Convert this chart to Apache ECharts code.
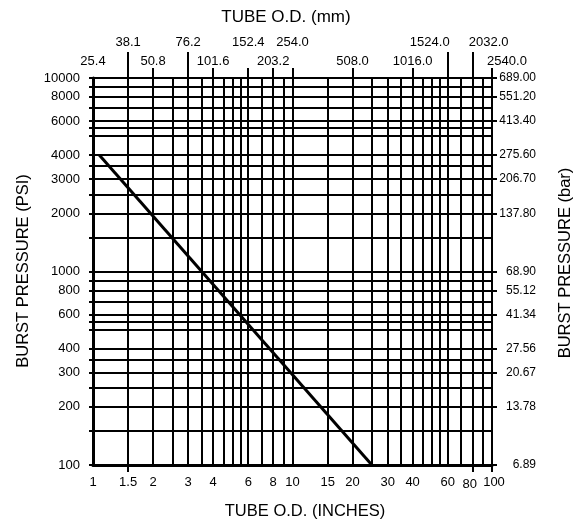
<!DOCTYPE html>
<html>
<head>
<meta charset="utf-8">
<script src="https://cdn.jsdelivr.net/npm/echarts@6/dist/echarts.min.js"></script>
<style>
  html, body { margin: 0; padding: 0; background: #fff; }
  #burst-chart { width: 580px; height: 519px; }
</style>
</head>
<body>
<div id="burst-chart"></div>
<script>
// tube O.D. in inches, bottom axis labels
let inchTicks = [1, 1.5, 2, 3, 4, 6, 8, 10, 15, 20, 30, 40, 60, 80, 100];
let inchStyle = ['n', 'n', 'n', 'n', 'n', 'n', 'n', 'n', 'n', 'n', 'n', 'n', 'n', 'l', 'r'];
// vertical grid lines (inches)
let inchGrid = [1, 1.5, 2, 2.5, 3, 3.5, 4, 4.5, 5, 5.5, 6, 7, 8, 9,
  10, 15, 20, 25, 30, 35, 40, 45, 50, 55, 60, 70, 80, 90, 100];
let inchDownTicks = [1.5, 80, 100];
// top axis: inch position -> mm label
let mmAt = [1, 1.5, 2, 3, 4, 6, 8, 10, 20, 40, 60, 80, 100];
let mmLabels = ['25.4', '38.1', '50.8', '76.2', '101.6', '152.4', '203.2', '254.0',
  '508.0', '1016.0', '1524.0', '2032.0', '2540.0'];
let mmRow = ['lo', 'hi', 'lo', 'hi', 'lo', 'hi', 'lo', 'hi', 'lo', 'lo', 'hiR', 'hiL', 'loL'];
let mmLongTicks = [1.5, 3, 60, 80];
let mmShortTicks = [2, 4, 6, 8, 10, 20, 40, 100];

// burst pressure in psi
let psiTicks = [100, 200, 300, 400, 600, 800, 1000, 2000, 3000, 4000, 6000, 8000, 10000];
let barLabels = ['6.89', '13.78', '20.67', '27.56', '41.34', '55.12', '68.90',
  '137.80', '206.70', '275.60', '413.40', '551.20', '689.00'];
let psiGrid = [100, 150, 200, 250, 300, 350, 400, 500, 550, 600, 700, 800, 900,
  1000, 1500, 2000, 2500, 3000, 3500, 4000, 5000, 5500, 6000, 7000, 8000, 9000, 10000];

// the burst pressure curve (inches, psi)
let curve = [[1.075, 4000], [25, 100]];

function findIdx(list, v) {
  for (let i = 0; i < list.length; i++) {
    if (Math.abs(list[i] - v) / list[i] < 1e-6) return i;
  }
  return -1;
}

let myChart = echarts.init(document.getElementById('burst-chart'));
let font = 'Liberation Sans, Arial, sans-serif';
let ink = '#000';

let option = {
  animation: false,
  backgroundColor: '#fff',
  textStyle: { fontFamily: font },
  grid: { left: 93, right: 88, top: 78, bottom: 54 },
  graphic: [
    { type: 'text', x: 286, y: 17,
      style: { text: 'TUBE O.D. (mm)', font: '17px ' + font, fill: ink,
        align: 'center', verticalAlign: 'middle' } },
    { type: 'text', x: 305, y: 511,
      style: { text: 'TUBE O.D. (INCHES)', font: '16.5px ' + font, fill: ink,
        align: 'center', verticalAlign: 'middle' } },
    { type: 'text', x: 23, y: 271, rotation: Math.PI / 2,
      style: { text: 'BURST PRESSURE (PSI)', font: '16.5px ' + font, fill: ink,
        align: 'center', verticalAlign: 'middle' } },
    { type: 'text', x: 565, y: 263, rotation: Math.PI / 2,
      style: { text: 'BURST PRESSURE (bar)', font: '16.5px ' + font, fill: ink,
        align: 'center', verticalAlign: 'middle' } }
  ],
  xAxis: [
    {
      type: 'log', min: 1, max: 100, position: 'bottom',
      axisLine: { show: true, lineStyle: { color: ink, width: 3 } },
      axisTick: { show: false, customValues: inchGrid },
      splitLine: { show: true, lineStyle: { color: ink, width: 2 } },
      axisLabel: {
        customValues: inchTicks, color: ink, fontSize: 13, margin: 11,
        formatter: function (v) {
          let i = findIdx(inchTicks, v);
          return '{' + inchStyle[i] + '|' + inchTicks[i] + '}';
        },
        rich: {
          n: { fontSize: 13, color: ink },
          l: { fontSize: 13, color: ink, padding: [2, 6, 0, 0] },
          r: { fontSize: 13, color: ink, padding: [0, 0, 0, 4] }
        }
      }
    },
    {
      type: 'log', min: 1, max: 100, position: 'top',
      axisLine: { show: false },
      axisTick: { show: true, inside: false, length: 26, customValues: mmLongTicks,
        lineStyle: { color: ink, width: 2 } },
      splitLine: { show: false },
      axisLabel: {
        customValues: mmAt, color: ink, fontSize: 13, margin: 10,
        formatter: function (v) {
          let i = findIdx(mmAt, v);
          return '{' + mmRow[i] + '|' + mmLabels[i] + '}';
        },
        rich: {
          lo: { fontSize: 13, color: ink },
          loL: { fontSize: 13, color: ink, padding: [0, 0, 0, 30] },
          hi: { fontSize: 13, color: ink, padding: [0, 0, 19, 0] },
          hiR: { fontSize: 13, color: ink, padding: [0, 36, 19, 0] },
          hiL: { fontSize: 13, color: ink, padding: [0, 0, 19, 32] }
        }
      }
    },
    {
      type: 'log', min: 1, max: 100, position: 'top',
      axisLine: { show: false },
      axisTick: { show: true, length: 10, customValues: mmShortTicks,
        lineStyle: { color: ink, width: 2 } },
      splitLine: { show: false },
      axisLabel: { show: false }
    },
    {
      type: 'log', min: 1, max: 100, position: 'bottom',
      axisLine: { show: false },
      axisTick: { show: true, length: 7, customValues: inchDownTicks,
        lineStyle: { color: ink, width: 2 } },
      splitLine: { show: false },
      axisLabel: { show: false }
    }
  ],
  yAxis: [
    {
      type: 'log', min: 100, max: 10000, position: 'left',
      axisLine: { show: true, lineStyle: { color: ink, width: 3 } },
      axisTick: { show: true, length: 4, customValues: psiGrid,
        lineStyle: { color: ink, width: 2 } },
      splitLine: { show: true, lineStyle: { color: ink, width: 2 } },
      axisLabel: { customValues: psiTicks, color: ink, fontSize: 13, margin: 13,
        formatter: function (v) { return String(psiTicks[findIdx(psiTicks, v)]); } }
    },
    {
      type: 'log', min: 100, max: 10000, position: 'right',
      axisLine: { show: false },
      axisTick: { show: true, length: 5, customValues: psiTicks,
        lineStyle: { color: ink, width: 2 } },
      splitLine: { show: false },
      axisLabel: { customValues: psiTicks, color: ink, fontSize: 12, margin: 44, align: 'right',
        formatter: function (v) { return barLabels[findIdx(psiTicks, v)]; } }
    }
  ],
  series: [{
    name: 'Burst pressure',
    type: 'line',
    xAxisIndex: 0,
    yAxisIndex: 0,
    symbol: 'none',
    lineStyle: { color: ink, width: 3 },
    data: curve,
    z: 5
  }]
};
myChart.setOption(option);

window.addEventListener('resize', function () {
  myChart.resize();
});
</script>
</body>
</html>
